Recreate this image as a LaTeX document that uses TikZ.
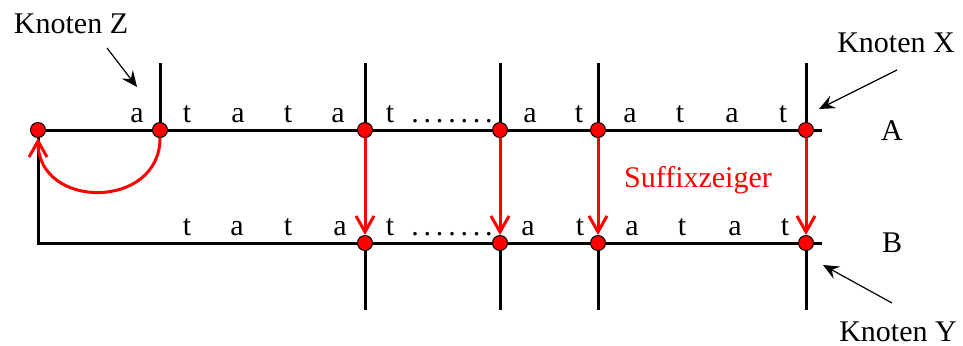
\documentclass[tikz,border=0pt]{standalone}
\usepackage{fontspec}
\setmainfont{Liberation Serif}
\usepackage{xcolor}
\usepackage{tikz}
\usetikzlibrary{arrows.meta,backgrounds}
\definecolor{zeigc}{HTML}{FF0000}
\newcommand{\punkte}{.\kern2.4pt.\kern2.4pt.\kern2.4pt.\kern2.4pt.\kern2.4pt.\kern2.4pt.}

\tikzset{
  knot/.style={circle,fill=zeigc,draw=black,line width=0.5pt,inner sep=0pt,minimum size=7.5pt},
  kante/.style={line width=1.5pt},
  zeiger/.style={zeigc,line width=1.5pt,-{Straight Barb[length=8pt,width=9pt,line width=1.5pt]}},
  sym/.style={anchor=base,inner sep=0pt},
  hinweis/.style={line width=0.6pt,-{Stealth[length=8pt,width=7pt,inset=3pt]}}
}

\begin{document}
\begin{tikzpicture}[x=0.5pt,y=-0.5pt,font=\fontsize{15}{18}\selectfont]
  \useasboundingbox (0,0) rectangle (963,345);
  % Knoten auf den Zeilen A und B
  \foreach \x [count=\i from 0] in {38,160,365,500,598,806}
    \node[knot] (a\i) at (\x,130) {};
  \foreach \x [count=\i from 2] in {365,500,598,806}
    \node[knot] (b\i) at (\x,243) {};
  \coordinate (aend) at (822,130);
  \coordinate (bcorn) at (38,243);
  \coordinate (bend) at (822,243);
  \coordinate (o1) at (160,63);
  \foreach \x [count=\i from 2] in {365,500,598,806}{
    \coordinate (o\i) at (\x,63);
    \coordinate (u\i) at (\x,310);}
  \begin{scope}[on background layer]
    \draw[kante] (a0.center) -- (aend);
    \draw[kante] (a0.center) -- (bcorn) -- (bend);
    \draw[kante] (o1) -- (a1.center);
    \foreach \i in {2,...,5}{
      \draw[kante] (o\i) -- (a\i.center);
      \draw[kante] (b\i.center) -- (u\i);}
  \end{scope}
  % Suffixzeiger
  \foreach \i in {2,...,5}
    \draw[zeiger] (a\i) -- (b\i);
  \draw[zeiger] (a1.south) .. controls +(0,72) and +(0,72) .. (a0.south);
  \node[zeigc,anchor=base] (sz) at (698,187) {Suffixzeiger};
  % Zeichen
  \foreach \c/\x [count=\i] in {a/137,t/187,a/238,t/288,a/338,t/390,a/530,t/579,a/630,t/680,a/732,t/783}
    \node[sym] (za\i) at (\x,122) {\c};
  \foreach \c/\x [count=\i] in {t/187,a/237,t/288,a/340,t/390,a/528,t/580,a/632,t/682,a/735,t/785}
    \node[sym] (zb\i) at (\x,235) {\c};
  \node[sym,anchor=base west] (pa) at (411,122) {\punkte};
  \node[sym,anchor=base west] (pb) at (411,235) {\punkte};
  \node[sym] (la) at (892,140) {A};
  \node[sym] (lb) at (892,252) {B};
  % Beschriftungen
  \node[sym] (kz) at (71,33) {Knoten Z};
  \node[sym] (kx) at (896,52) {Knoten X};
  \node[sym] (ky) at (898,341) {Knoten Y};
  \coordinate (kz1) at (107,48);  \coordinate (kz2) at (137,87);
  \coordinate (kx1) at (897,70);  \coordinate (kx2) at (819,109);
  \coordinate (ky1) at (892,303); \coordinate (ky2) at (823,265);
  \draw[hinweis] (kz1) -- (kz2);
  \draw[hinweis] (kx1) -- (kx2);
  \draw[hinweis] (ky1) -- (ky2);
\end{tikzpicture}
\end{document}
